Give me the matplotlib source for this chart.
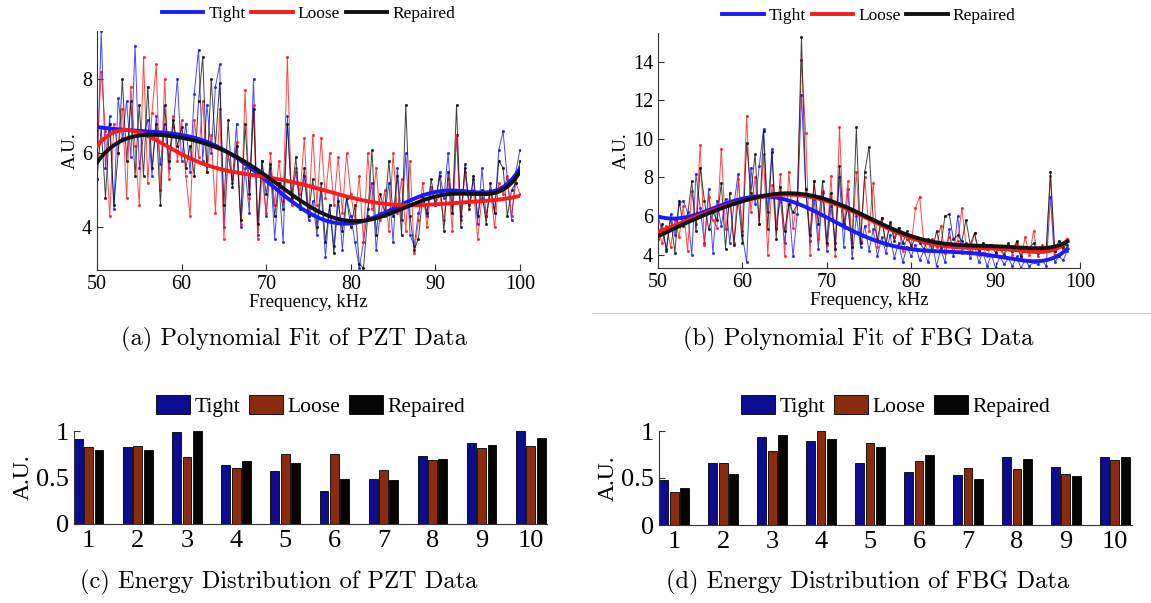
import numpy as np
import matplotlib
matplotlib.use("Agg")
import matplotlib.pyplot as plt
from matplotlib.lines import Line2D

# ---------------- data ----------------
series_names = ["Tight", "Loose", "Repaired"]

# PZT spectra, 50..100 kHz step 0.5
pzt_freq = np.arange(50.0, 100.01, 0.5)
pzt_tight = [
    5.3, 9.3, 5.6, 7.0, 4.5, 7.5, 6.4, 7.4, 5.9, 8.9,
    5.6, 6.5, 6.9, 5.4, 7.0, 5.7, 6.8, 5.6, 6.7, 8.0,
    5.8, 6.8, 5.5, 7.6, 8.8, 5.8, 7.3, 6.0, 7.8, 8.4,
    4.0, 6.0, 5.2, 6.8, 4.0, 5.6, 4.4, 8.0, 3.8, 5.8,
    4.3, 5.6, 3.7, 5.2, 3.6, 7.0, 4.7, 5.5, 4.6, 5.4,
    4.2, 4.7, 3.8, 5.0, 3.2, 4.6, 3.5, 4.9, 3.4, 4.8,
    4.3, 3.6, 2.9, 3.6, 4.5, 5.2, 3.4, 4.4, 4.3, 5.2,
    3.6, 5.6, 4.2, 6.0, 3.8, 3.5, 4.4, 4.8, 4.3, 5.1,
    4.6, 5.5, 4.8, 6.0, 4.4, 6.5, 4.3, 5.6, 4.6, 5.3,
    4.1, 5.6, 4.3, 5.0, 4.4, 6.1, 6.6, 5.3, 4.2, 5.5,
    6.1]
pzt_loose = [
    6.0, 8.2, 6.6, 4.3, 6.8, 6.0, 7.2, 4.8, 7.8, 6.2,
    4.6, 8.6, 5.2, 7.1, 8.4, 5.0, 8.0, 5.3, 7.0, 5.8,
    6.9, 5.4, 4.3, 6.9, 5.9, 7.4, 5.5, 6.5, 4.4, 7.2,
    3.7, 6.0, 5.3, 6.3, 4.1, 7.7, 4.8, 7.3, 3.7, 5.4,
    4.4, 6.0, 4.6, 5.8, 4.7, 8.6, 4.6, 5.6, 4.9, 6.4,
    4.3, 6.5, 4.6, 6.4, 4.8, 6.0, 4.6, 5.9, 4.4, 6.0,
    4.9, 4.2, 5.4, 3.6, 6.0, 4.5, 5.6, 4.2, 5.0, 3.9,
    6.0, 4.4, 5.3, 3.9, 5.8, 3.3, 4.2, 5.2, 4.0, 5.1,
    4.6, 4.9, 4.2, 5.3, 3.9, 6.5, 4.2, 5.5, 4.6, 5.0,
    3.7, 4.8, 4.3, 5.0, 4.0, 5.2, 4.9, 5.4, 4.3, 5.2,
    4.9]
pzt_repaired = [
    5.3, 6.7, 4.8, 6.8, 4.6, 6.0, 8.0, 5.8, 7.4, 5.4,
    7.3, 5.4, 7.8, 5.6, 6.8, 4.6, 7.3, 5.8, 6.9, 6.2,
    6.7, 5.6, 6.2, 5.4, 7.4, 8.6, 5.5, 8.0, 6.2, 7.9,
    4.6, 6.9, 5.1, 6.2, 4.2, 6.8, 4.9, 7.2, 4.1, 5.8,
    4.9, 5.7, 4.3, 5.2, 4.5, 6.8, 4.8, 5.9, 4.5, 5.6,
    4.3, 5.3, 4.0, 5.2, 3.6, 4.6, 3.3, 4.7, 3.9, 4.8,
    4.0, 4.6, 3.0, 2.9, 4.3, 6.1, 3.8, 4.9, 4.4, 5.8,
    4.3, 5.4, 3.8, 7.3, 4.3, 3.4, 3.7, 4.9, 4.4, 5.3,
    4.6, 5.4, 3.9, 5.5, 4.4, 7.3, 4.0, 5.7, 4.5, 5.4,
    4.3, 5.0, 4.1, 5.2, 4.4, 5.8, 5.6, 4.3, 5.0, 5.2,
    5.8]

# PZT polynomial-fit curves read at 2.5 kHz steps
pzt_fit_freq = np.arange(50.0, 100.01, 2.5)
pzt_fit_tight = [6.71, 6.65, 6.60, 6.56, 6.50, 6.35, 6.10, 5.70, 5.25, 4.80,
                 4.42, 4.15, 4.08, 4.25, 4.52, 4.78, 4.95, 4.98, 4.96, 5.02, 5.60]
pzt_fit_loose = [6.20, 6.60, 6.57, 6.28, 5.98, 5.72, 5.55, 5.45, 5.35, 5.25,
                 5.12, 4.97, 4.80, 4.68, 4.62, 4.60, 4.62, 4.66, 4.70, 4.75, 4.85]
pzt_fit_repaired = [5.75, 6.30, 6.47, 6.48, 6.43, 6.30, 6.07, 5.75, 5.38, 4.98,
                    4.60, 4.30, 4.17, 4.20, 4.40, 4.65, 4.85, 4.90, 4.88, 4.98, 5.50]

# FBG spectra, 50..98.5 kHz step 0.5
fbg_freq = np.arange(50.0, 98.51, 0.5)
fbg_tight = [
    6.0, 5.2, 4.3, 6.1, 5.0, 6.6, 6.8, 6.2, 4.0, 8.2,
    6.4, 4.6, 7.4, 4.1, 6.8, 5.5, 6.9, 4.6, 6.6, 8.2,
    5.0, 3.6, 8.5, 6.6, 8.6, 10.5, 6.2, 9.5, 5.4, 6.9,
    4.6, 6.6, 3.9, 6.1, 12.3, 7.4, 4.7, 6.9, 4.3, 7.2,
    4.2, 6.5, 4.6, 8.0, 4.4, 7.4, 3.8, 6.0, 4.4, 5.5,
    4.2, 5.3, 3.9, 4.9, 4.1, 5.0, 3.8, 4.6, 3.6, 4.4,
    3.9, 4.5, 3.7, 4.2, 3.6, 4.6, 3.4, 4.3, 3.6, 5.3,
    3.9, 6.0, 4.1, 4.6, 3.8, 4.5, 3.6, 4.1, 3.4, 4.0,
    3.3, 3.9, 3.5, 3.8, 3.4, 3.9, 3.3, 3.7, 3.4, 3.6,
    3.5, 3.7, 3.4, 7.0, 3.6, 3.9, 3.7, 4.2]
fbg_loose = [
    5.2, 4.6, 5.5, 4.4, 5.8, 4.9, 6.5, 4.2, 7.3, 5.6,
    9.7, 4.5, 7.0, 5.8, 5.4, 9.5, 5.3, 6.8, 4.6, 7.9,
    5.2, 11.2, 6.2, 8.0, 5.6, 9.2, 4.0, 7.6, 5.3, 8.2,
    3.9, 8.3, 5.4, 6.8, 14.1, 10.3, 4.0, 7.8, 4.8, 7.3,
    4.5, 8.1, 3.9, 10.6, 5.4, 7.8, 4.6, 8.3, 4.7, 8.0,
    5.2, 7.7, 4.4, 5.9, 4.6, 5.6, 4.9, 5.4, 4.2, 4.8,
    4.5, 6.4, 7.0, 4.6, 4.2, 4.8, 4.4, 5.5, 4.1, 4.9,
    4.4, 4.7, 6.4, 4.5, 4.2, 5.1, 4.0, 4.4, 3.9, 4.5,
    4.1, 4.3, 3.9, 4.4, 4.0, 4.6, 3.8, 4.9, 4.0, 5.2,
    3.9, 4.5, 4.2, 8.1, 4.0, 4.4, 4.3, 4.8]
fbg_repaired = [
    4.8, 5.6, 4.2, 5.9, 4.1, 6.8, 5.5, 6.0, 7.8, 5.2,
    8.5, 6.8, 5.3, 6.2, 5.8, 7.7, 4.3, 7.2, 4.5, 6.9,
    4.6, 9.8, 7.2, 9.2, 5.6, 10.4, 5.3, 9.3, 4.8, 7.5,
    5.2, 6.6, 6.2, 6.6, 15.3, 7.4, 5.0, 7.8, 5.6, 7.8,
    4.6, 7.2, 4.3, 8.6, 5.6, 6.4, 4.4, 10.6, 4.6, 8.3,
    9.6, 5.8, 4.8, 5.9, 4.5, 5.7, 4.7, 5.4, 4.6, 5.2,
    4.4, 4.9, 4.6, 4.3, 4.8, 4.2, 5.2, 4.4, 6.0, 6.1,
    4.8, 5.0, 4.7, 5.8, 4.5, 5.1, 4.2, 4.6, 4.3, 4.5,
    4.1, 4.4, 4.0, 4.6, 4.2, 4.7, 3.9, 4.4, 4.3, 4.6,
    4.1, 4.2, 4.3, 8.3, 4.2, 4.7, 4.4, 4.5]

# FBG polynomial-fit curves
fbg_fit_freq = [50.0, 52.5, 55.0, 57.5, 60.0, 62.5, 65.0, 67.5, 70.0, 72.5,
                75.0, 77.5, 80.0, 82.5, 85.0, 87.5, 90.0, 92.5, 95.0, 97.5, 98.5]
fbg_fit_tight = [5.98, 5.85, 6.20, 6.55, 6.84, 7.05, 6.90, 6.45, 5.90, 5.35,
                 4.86, 4.50, 4.26, 4.18, 4.15, 4.05, 3.90, 3.75, 3.66, 3.95, 4.30]
fbg_fit_loose = [5.20, 5.60, 6.05, 6.45, 6.78, 7.00, 7.10, 7.05, 6.78, 6.35,
                 5.82, 5.30, 4.85, 4.55, 4.40, 4.33, 4.30, 4.22, 4.15, 4.35, 4.75]
fbg_fit_repaired = [4.95, 5.45, 5.98, 6.40, 6.76, 7.02, 7.19, 7.15, 6.84, 6.40,
                    5.90, 5.40, 4.95, 4.68, 4.52, 4.45, 4.42, 4.38, 4.34, 4.45, 4.69]

# Energy distributions
bands = [1, 2, 3, 4, 5, 6, 7, 8, 9, 10]
pzt_energy_tight = [0.91, 0.83, 0.99, 0.63, 0.57, 0.36, 0.48, 0.73, 0.87, 1.00]
pzt_energy_loose = [0.83, 0.84, 0.72, 0.60, 0.75, 0.75, 0.58, 0.69, 0.82, 0.84]
pzt_energy_repaired = [0.80, 0.80, 1.00, 0.68, 0.66, 0.48, 0.47, 0.70, 0.85, 0.93]
fbg_energy_tight = [0.48, 0.66, 0.94, 0.89, 0.66, 0.56, 0.53, 0.72, 0.62, 0.72]
fbg_energy_loose = [0.35, 0.66, 0.79, 1.00, 0.87, 0.68, 0.61, 0.60, 0.54, 0.69]
fbg_energy_repaired = [0.39, 0.54, 0.96, 0.92, 0.83, 0.74, 0.49, 0.70, 0.52, 0.72]

captions = ["(a) Polynomial Fit of PZT Data", "(b) Polynomial Fit of FBG Data",
            "(c) Energy Distribution of PZT Data", "(d) Energy Distribution of FBG Data"]

# ---------------- style ----------------
SERIF = "Liberation Serif"
line_colors = ["#1a1aff", "#ff1a1a", "#111111"]
bar_colors = ["#0c0c90", "#8a2a0e", "#050505"]

W, H = 1151, 603
fig = plt.figure(figsize=(W / 100, H / 100), dpi=100)


def frac(x0, y0, x1, y1):
    return [x0 / W, 1 - y1 / H, (x1 - x0) / W, (y1 - y0) / H]


def style_axes(ax, fs):
    for s in ("top", "right"):
        ax.spines[s].set_visible(False)
    for s in ("left", "bottom"):
        ax.spines[s].set_linewidth(0.8)
        ax.spines[s].set_color("#333333")
    ax.tick_params(direction="in", length=4, width=0.8, labelsize=fs, colors="#333333",
                   labelcolor="black")
    for lab in ax.get_xticklabels() + ax.get_yticklabels():
        lab.set_fontfamily(SERIF)


def spectrum(ax, freq, data, fit_x, fits, xlim, ylim, yticks):
    for d, c in zip(data, line_colors):
        ax.plot(freq, d, color=c, lw=0.7, alpha=0.8, marker=".", ms=2.5, zorder=2)
    handles = []
    for f, c, name in zip(fits, line_colors, series_names):
        fx = np.asarray(fit_x, float)
        t = (fx - fx.mean()) / (fx.max() - fx.min())
        coef = np.polyfit(t, f, 9)
        tt = np.linspace(t.min(), t.max(), 300)
        xx = tt * (fx.max() - fx.min()) + fx.mean()
        h, = ax.plot(xx, np.polyval(coef, tt), color=c, lw=2.8, zorder=3, label=name)
        handles.append(h)
    ax.set_xlim(*xlim)
    ax.set_ylim(*ylim)
    ax.set_xticks([50, 60, 70, 80, 90, 100])
    ax.set_yticks(yticks)
    style_axes(ax, 14.5)
    ax.set_xlabel("Frequency, kHz", fontfamily=SERIF, fontsize=13.5, labelpad=0)
    ax.set_ylabel("A.U.", fontfamily=SERIF, fontsize=13.5, labelpad=2)
    ax.legend(handles=handles, loc="lower center", bbox_to_anchor=(0.5, 1.0),
              ncol=3, frameon=False, handlelength=2.4, handletextpad=0.3,
              columnspacing=0.3, borderaxespad=0.1,
              prop={"family": SERIF, "size": 12.5})


def energy(ax, vals, xlim):
    x = np.asarray(bands, float)
    offs = [-0.21, 0.0, 0.21]
    for v, c, o, name in zip(vals, bar_colors, offs, series_names):
        ax.bar(x + o, v, width=0.18, color=c, edgecolor="black", linewidth=0.6,
               label=name, zorder=2)
    ax.set_xlim(*xlim)
    ax.set_ylim(0, 1.0)
    ax.set_xticks(bands)
    ax.set_yticks([0, 0.5, 1])
    ax.set_yticklabels(["0", "0.5", "1"])
    style_axes(ax, 19)
    ax.tick_params(axis="x", length=0, pad=4)
    ax.set_ylabel("A.U.", fontfamily=SERIF, fontsize=17, labelpad=2)
    ax.legend(loc="lower center", bbox_to_anchor=(0.5, 1.06), ncol=3, frameon=False,
              handlelength=1.6, handleheight=0.95, handletextpad=0.2,
              columnspacing=0.4, borderaxespad=0.0,
              prop={"family": SERIF, "size": 15.5})


ax_a = fig.add_axes(frac(97, 31, 520, 270))
spectrum(ax_a, pzt_freq, [pzt_tight, pzt_loose, pzt_repaired], pzt_fit_freq,
         [pzt_fit_tight, pzt_fit_loose, pzt_fit_repaired], (50, 100), (2.85, 9.3), [4, 6, 8])

ax_b = fig.add_axes(frac(658, 33, 1080, 268))
spectrum(ax_b, fbg_freq, [fbg_tight, fbg_loose, fbg_repaired], fbg_fit_freq,
         [fbg_fit_tight, fbg_fit_loose, fbg_fit_repaired], (50, 100), (3.3, 15.5),
         [4, 6, 8, 10, 12, 14])

ax_c = fig.add_axes(frac(74, 431, 547, 524))
energy(ax_c, [pzt_energy_tight, pzt_energy_loose, pzt_energy_repaired], (0.7, 10.33))

ax_d = fig.add_axes(frac(659, 431, 1132, 525))
energy(ax_d, [fbg_energy_tight, fbg_energy_loose, fbg_energy_repaired], (0.69, 10.35))

# thin separator line under panel (b)
fig.add_artist(Line2D([592 / W, 1.0], [1 - 313 / H, 1 - 313 / H], color="#d0d0d0", lw=0.8))

cap_pos = [(294, 339), (858, 339), (279, 582), (868, 582)]
for txt, (cx, cy) in zip(captions, cap_pos):
    fig.text(cx / W, 1 - cy / H, txt, ha="center", va="center", fontfamily="cmr10",
             fontsize=17.6)

fig.savefig("out.png", dpi=100, facecolor="white")
